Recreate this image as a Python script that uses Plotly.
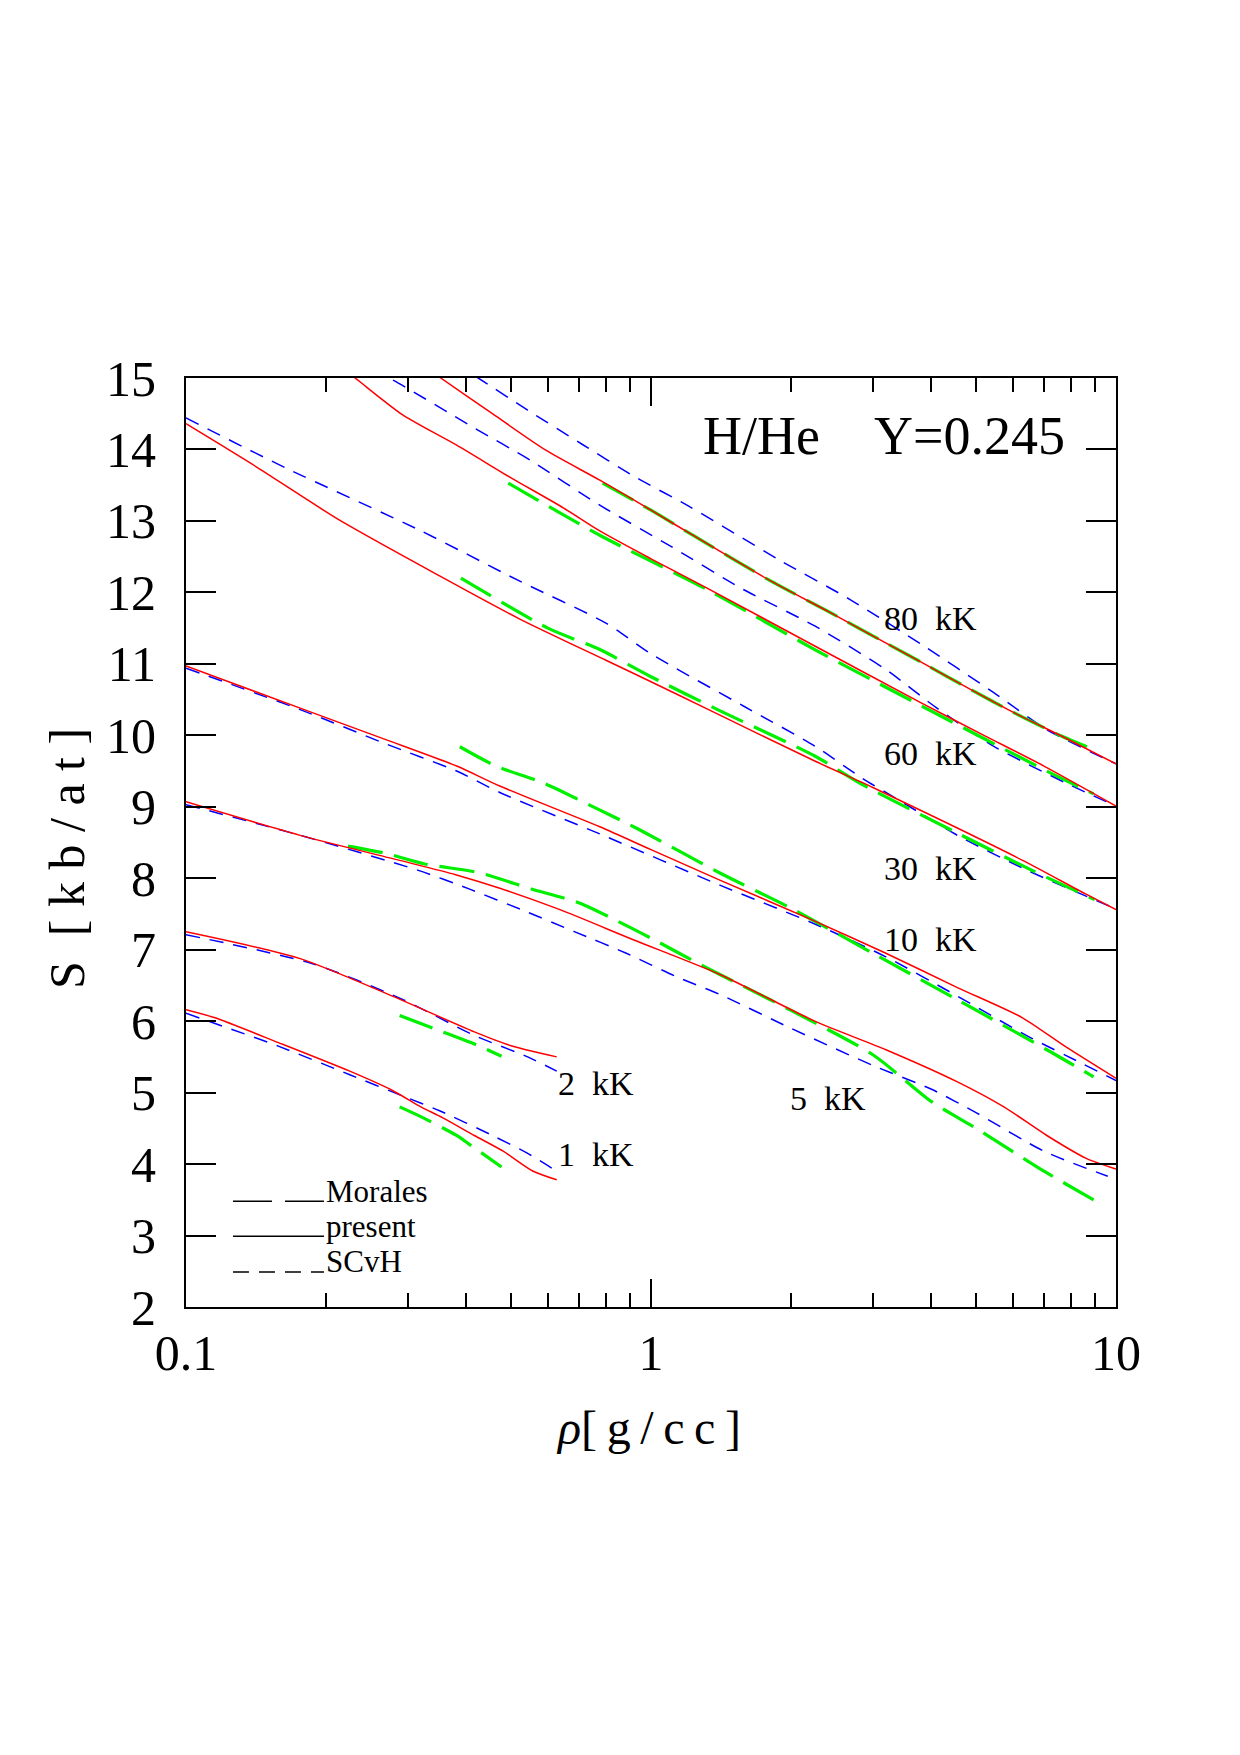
import math
import plotly.graph_objects as go

# ---------------- data (rho in g/cc, S in kb/atom) ----------------
# 80 kK
rho_80_present = [0.30, 0.353, 0.456, 0.594, 0.776, 1.0, 1.23, 1.82, 2.41, 3.04, 3.82, 4.81, 6.06, 7.63, 10]
S_80_present = [15.33, 15.0, 14.5, 13.99, 13.57, 13.15, 12.8, 12.15, 11.73, 11.37, 11.02, 10.66, 10.31, 9.99, 9.6]
rho_80_scvh = [0.38, 0.425, 0.543, 0.708, 0.922, 1.21, 1.88, 2.68, 3.82, 5.45, 7.1, 10]
S_80_scvh = [15.2, 15.0, 14.55, 14.08, 13.62, 13.2, 12.46, 11.9, 11.27, 10.6, 10.08, 9.6]
rho_80_morales = [0.787, 1.0, 1.23, 1.82, 2.41, 3.04, 3.82, 4.81, 6.06, 7.63, 8.95]
S_80_morales = [13.53, 13.15, 12.8, 12.15, 11.73, 11.37, 11.02, 10.66, 10.31, 9.99, 9.8]

# 60 kK
rho_60_present = [0.2, 0.231, 0.293, 0.382, 0.498, 0.649, 0.776, 1.0, 1.32, 2.25, 3.82, 5.2, 7.0, 10]
S_60_present = [15.31, 15.0, 14.48, 14.06, 13.61, 13.18, 12.86, 12.47, 12.06, 11.25, 10.45, 10.0, 9.57, 9.01]
rho_60_scvh = [0.25, 0.273, 0.417, 0.55, 0.776, 1.106, 1.58, 2.25, 3.2, 4.1, 5.45, 7.76, 10]
S_60_scvh = [15.1, 15.0, 14.3, 13.85, 13.22, 12.64, 12.04, 11.53, 10.92, 10.39, 9.85, 9.34, 9.01]
rho_60_morales = [0.493, 0.776, 1.32, 2.25, 3.82, 7.1, 8.95]
S_60_morales = [13.53, 12.8, 12.04, 11.2, 10.41, 9.5, 9.18]

# 30 kK
rho_30_present = [0.1, 0.139, 0.214, 0.351, 0.521, 0.8, 1.0, 1.32, 2.25, 3.0, 4.5, 6.3, 8.6, 10]
S_30_present = [14.36, 13.79, 13.01, 12.23, 11.63, 11.05, 10.75, 10.37, 9.64, 9.27, 8.72, 8.25, 7.78, 7.56]
rho_30_scvh = [0.1, 0.164, 0.318, 0.521, 0.8, 1.0, 1.58, 2.25, 2.83, 3.5, 4.56, 6.5, 10]
S_30_scvh = [14.44, 13.74, 12.87, 12.16, 11.57, 11.14, 10.41, 9.85, 9.41, 9.05, 8.6, 8.1, 7.57]
rho_30_morales = [0.39, 0.6, 0.776, 1.0, 1.39, 2.25, 2.85, 4.5, 6.5, 9.0]
S_30_morales = [12.2, 11.5, 11.2, 10.82, 10.36, 9.71, 9.31, 8.65, 8.13, 7.7]

# 10 kK
rho_10_present = [0.1, 0.176, 0.269, 0.382, 0.473, 0.776, 1.0, 1.41, 2.25, 3.2, 4.56, 6.28, 7.76, 10]
S_10_present = [10.97, 10.38, 9.94, 9.57, 9.29, 8.72, 8.4, 7.97, 7.4, 6.95, 6.47, 6.05, 5.65, 5.2]
rho_10_scvh = [0.1, 0.176, 0.269, 0.382, 0.473, 0.776, 1.41, 2.25, 3.2, 4.56, 6.5, 8.5, 10]
S_10_scvh = [10.94, 10.36, 9.88, 9.5, 9.2, 8.62, 7.9, 7.36, 6.9, 6.35, 5.78, 5.4, 5.17]
rho_10_morales = [0.388, 0.464, 0.583, 0.74, 0.931, 1.41, 2.0, 3.0, 4.56, 7.1, 8.95]
S_10_morales = [9.84, 9.57, 9.34, 9.02, 8.7, 8.07, 7.58, 6.95, 6.3, 5.6, 5.22]

# 5 kK
rho_5_present = [0.1, 0.176, 0.288, 0.38, 0.473, 0.637, 0.916, 1.41, 2.25, 3.2, 4.56, 5.74, 7.1, 8.63, 10]
S_5_present = [9.07, 8.6, 8.25, 8.05, 7.86, 7.56, 7.14, 6.65, 6.0, 5.6, 5.15, 4.8, 4.4, 4.08, 3.93]
rho_5_scvh = [0.1, 0.176, 0.316, 0.41, 0.531, 0.686, 0.885, 1.127, 1.41, 2.0, 3.0, 4.0, 5.0, 7.0, 9.6]
S_5_scvh = [9.03, 8.6, 8.11, 7.84, 7.55, 7.25, 6.95, 6.63, 6.37, 5.9, 5.38, 5.05, 4.72, 4.18, 3.83]
rho_5_morales = [0.223, 0.268, 0.326, 0.425, 0.553, 0.703, 0.89, 1.035, 1.22, 1.41, 2.0, 3.0, 4.0, 5.0, 7.0, 8.95]
S_5_morales = [8.45, 8.35, 8.2, 8.08, 7.85, 7.65, 7.33, 7.11, 6.86, 6.65, 6.15, 5.53, 4.88, 4.5, 3.9, 3.5]

# 2 kK
rho_2_present = [0.1, 0.176, 0.278, 0.417, 0.498, 0.558, 0.627]
S_2_present = [7.25, 6.875, 6.35, 5.85, 5.66, 5.575, 5.5]
rho_2_scvh = [0.1, 0.188, 0.293, 0.417, 0.543, 0.627]
S_2_scvh = [7.21, 6.8, 6.3, 5.8, 5.5, 5.3]
rho_2_morales = [0.288, 0.34, 0.41, 0.477]
S_2_morales = [6.08, 5.9, 5.7, 5.51]

# 1 kK
rho_1_present = [0.1, 0.115, 0.158, 0.225, 0.278, 0.32, 0.356, 0.417, 0.481, 0.558, 0.627]
S_1_present = [6.16, 6.05, 5.7, 5.3, 5.03, 4.8, 4.65, 4.4, 4.18, 3.9, 3.78]
rho_1_scvh = [0.1, 0.158, 0.225, 0.293, 0.35, 0.456, 0.543, 0.627]
S_1_scvh = [6.11, 5.65, 5.25, 4.95, 4.75, 4.4, 4.15, 3.9]
rho_1_morales = [0.288, 0.323, 0.382, 0.406, 0.477]
S_1_morales = [4.8, 4.65, 4.4, 4.28, 3.96]

# temperature labels: (text, rho, S)
label_text = ["80\u00a0\u00a0kK", "60\u00a0\u00a0kK", "30\u00a0\u00a0kK", "10\u00a0\u00a0kK",
              "5\u00a0\u00a0kK", "2\u00a0\u00a0kK", "1\u00a0\u00a0kK"]
label_rho = [4.0, 4.0, 4.0, 4.0, 2.4, 0.76, 0.76]
label_S = [11.63, 9.74, 8.14, 7.14, 4.92, 5.13, 4.13]

x_tickvals = [0.1, 1, 10]
x_ticktext = ["0.1", "1", "10"]
x_minor = [0.2, 0.3, 0.4, 0.5, 0.6, 0.7, 0.8, 0.9, 2, 3, 4, 5, 6, 7, 8, 9]
y_tickvals = list(range(2, 16))

legend_names = ["Morales", "present", "SCvH"]

# ---------------- styles ----------------
RED = "#ff0000"
BLUE = "#0000ff"
GREEN = "#00f000"
SMOOTH = 0.7
present_style = dict(color=RED, width=1.5, shape="spline", smoothing=SMOOTH)
scvh_style = dict(color=BLUE, width=1.5, dash="14px,10px", shape="spline", smoothing=SMOOTH)
morales_style = dict(color=GREEN, width=3.2, dash="35px,12px", shape="spline", smoothing=SMOOTH)
SERIF = "Liberation Serif"

fig = go.Figure()

series = [
    (rho_80_present, S_80_present, rho_80_scvh, S_80_scvh, rho_80_morales, S_80_morales, "80 kK"),
    (rho_60_present, S_60_present, rho_60_scvh, S_60_scvh, rho_60_morales, S_60_morales, "60 kK"),
    (rho_30_present, S_30_present, rho_30_scvh, S_30_scvh, rho_30_morales, S_30_morales, "30 kK"),
    (rho_10_present, S_10_present, rho_10_scvh, S_10_scvh, rho_10_morales, S_10_morales, "10 kK"),
    (rho_5_present, S_5_present, rho_5_scvh, S_5_scvh, rho_5_morales, S_5_morales, "5 kK"),
    (rho_2_present, S_2_present, rho_2_scvh, S_2_scvh, rho_2_morales, S_2_morales, "2 kK"),
    (rho_1_present, S_1_present, rho_1_scvh, S_1_scvh, rho_1_morales, S_1_morales, "1 kK"),
]

for rp, sp_, rs, ss, rm, sm, name in series:
    fig.add_trace(go.Scatter(x=rs, y=ss, mode="lines", line=scvh_style,
                             name="SCvH " + name, hoverinfo="skip", showlegend=False))
    fig.add_trace(go.Scatter(x=rm, y=sm, mode="lines", line=morales_style,
                             name="Morales " + name, hoverinfo="skip", showlegend=False))
    fig.add_trace(go.Scatter(x=rp, y=sp_, mode="lines", line=present_style,
                             name="present " + name, hoverinfo="skip", showlegend=False))

annotations = []
for t, r, s in zip(label_text, label_rho, label_S):
    annotations.append(dict(x=math.log10(r), y=s, xref="x", yref="y", text=t,
                            showarrow=False, xanchor="center", yanchor="middle",
                            font=dict(family=SERIF, size=34, color="black")))

# title text inside the plot
annotations.append(dict(x=0.2366, y=14.19, xref="x", yref="y", text="H/He",
                        showarrow=False, xanchor="center", yanchor="middle",
                        font=dict(family=SERIF, size=54, color="black")))
annotations.append(dict(x=0.686, y=14.19, xref="x", yref="y", text="Y=0.245",
                        showarrow=False, xanchor="center", yanchor="middle",
                        font=dict(family=SERIF, size=54, color="black")))

# legend (drawn manually: sample line + text)
legend_dash = ["39px,13px", "solid", "16px,10px"]
legend_S = [3.48, 2.99, 2.49]
shapes = []
for nm, dsh, s in zip(legend_names, legend_dash, legend_S):
    shapes.append(dict(type="line", xref="paper", yref="y", x0=0.0505, x1=0.1484,
                       y0=s, y1=s, line=dict(color="black", width=1.5, dash=dsh)))
    annotations.append(dict(x=0.1495, y=s + 0.14, xref="paper", yref="y", text=nm,
                            showarrow=False, xanchor="left", yanchor="middle",
                            borderpad=0,
                            font=dict(family=SERIF, size=31, color="black")))

# axis titles
sp = "\u2005"
annotations.append(dict(x=-0.128, y=0.4833, xref="paper", yref="paper",
                        text="S" + " " + sp + "[" + sp + "k" + sp + "b" + sp + "/" + sp + "a" + sp + "t" + sp + "]",
                        textangle=-90,
                        showarrow=False, xanchor="center", yanchor="middle",
                        font=dict(family=SERIF, size=50, color="black")))
annotations.append(dict(x=0.497, y=-0.130, xref="paper", yref="paper",
                        text="<i>\u03c1</i>[\u2009g\u2009/\u2009c\u2009c\u2009]",
                        showarrow=False, xanchor="center", yanchor="middle",
                        font=dict(family=SERIF, size=48, color="black")))

axis_common = dict(showgrid=False, zeroline=False, showline=True, linecolor="black",
                   linewidth=2, mirror="allticks", ticks="inside", tickcolor="black",
                   tickwidth=1.5, tickfont=dict(family=SERIF, size=50, color="black"))

fig.update_layout(
    width=1240, height=1755,
    margin=dict(l=186, r=124, t=378, b=448, pad=0),
    paper_bgcolor="white", plot_bgcolor="white",
    showlegend=False,
    xaxis=dict(type="log", range=[-1, 1], tickvals=x_tickvals, ticktext=x_ticktext,
               ticklen=28, ticklabelstandoff=1,
               minor=dict(ticks="inside", ticklen=14, tickwidth=1.5, tickcolor="black",
                          tickvals=x_minor, showgrid=False),
               **axis_common),
    yaxis=dict(range=[2, 15], tickvals=y_tickvals, ticklen=30, ticklabelstandoff=18,
               **axis_common),
    annotations=annotations,
    shapes=shapes,
)

fig.write_html("out.html")
